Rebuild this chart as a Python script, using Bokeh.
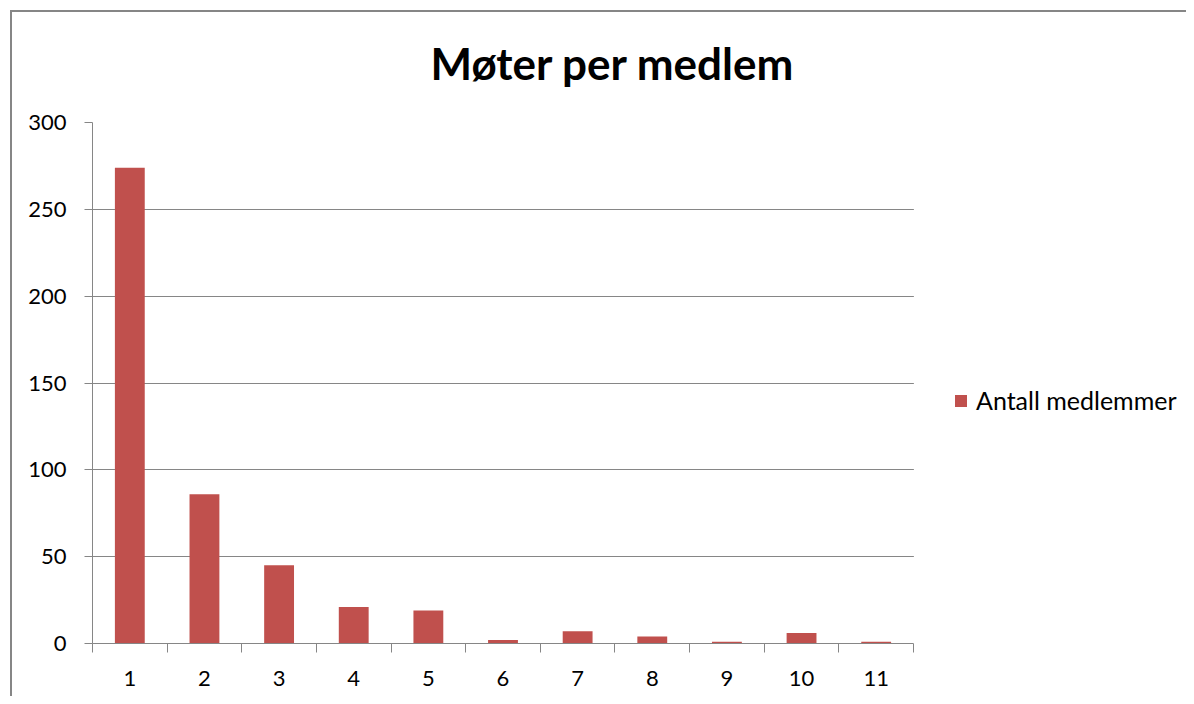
from bokeh.plotting import figure
from bokeh.models import FixedTicker, Legend, LegendItem, Range1d, BoxAnnotation
from bokeh.embed import file_html
from bokeh.resources import INLINE

# data
categories = [1, 2, 3, 4, 5, 6, 7, 8, 9, 10, 11]
members = [274, 86, 45, 21, 19, 2, 7, 4, 1, 6, 1]
y_ticks = [0, 50, 100, 150, 200, 250, 300]
title_text = "Møter per medlem"
series_name = "Antall medlemmer"

BAR = "#C0504D"
GRID = "#868686"
FONT = "Lato"

W, H = 1186, 696
LEFT, TOP, BOTTOM = 92, 122, 53
BARS_W = 821                      # pixel width of the bar area
FRAME_W = W - LEFT                # frame runs to the right edge (legend lives inside)
x0 = categories[0] - 0.5
x1 = categories[-1] + 0.5
x_end = x0 + (x1 - x0) * FRAME_W / BARS_W

p = figure(width=W, height=H, output_backend="svg", toolbar_location=None,
           x_range=Range1d(x0, x_end), y_range=Range1d(0, 300),
           min_border_left=LEFT, min_border_right=0, min_border_top=TOP,
           min_border_bottom=BOTTOM, outline_line_color=None,
           border_fill_color=None, background_fill_color="white")

p.styles = {
    "background": ("linear-gradient(#868686,#868686) 10px 10px / 2px 100% no-repeat, "
                   "linear-gradient(#868686,#868686) 10px 10px / 100% 2px no-repeat, white"),
}

r = p.vbar(x=categories, top=members, width=0.4, fill_color=BAR,
           line_color=BAR, line_width=0)

# title
p.title.text = title_text
p.title.text_font = FONT
p.title.text_font_style = "bold"
p.title.text_font_size = "44px"
p.title.align = "left"
p.title.vertical_align = "top"
p.title.offset = 338
p.title.standoff = 64
p.title.text_color = "black"

# y axis
ya = p.yaxis[0]
ya.ticker = FixedTicker(ticks=y_ticks)
ya.axis_line_color = GRID
ya.major_tick_line_color = GRID
ya.major_tick_out = 8
ya.major_tick_in = 0
ya.minor_tick_line_color = None
ya.major_label_standoff = 18
ya.major_label_text_font = FONT
ya.major_label_text_font_size = "22px"
ya.major_label_text_color = "black"

# x axis: labels at centres, ticks at category boundaries
xa = p.xaxis[0]
xa.bounds = (x0, x1)
xa.ticker = FixedTicker(ticks=categories,
                        minor_ticks=[c - 0.5 for c in categories] + [x1])
xa.axis_line_color = GRID
xa.major_tick_line_color = None
xa.major_tick_out = 0
xa.major_tick_in = 0
xa.minor_tick_line_color = GRID
xa.minor_tick_out = 9
xa.minor_tick_in = 0
xa.major_label_standoff = 18
xa.major_label_text_font = FONT
xa.major_label_text_font_size = "22px"
xa.major_label_text_color = "black"

p.xgrid.grid_line_color = None
p.ygrid.grid_line_color = GRID
p.ygrid.ticker = FixedTicker(ticks=y_ticks)

# blank out the grid to the right of the bar area
p.add_layout(BoxAnnotation(left=x1 + 0.005, fill_color="white", fill_alpha=1,
                           line_color=None))

legend = Legend(items=[LegendItem(label=series_name, renderers=[r])],
                location=(861, 228), orientation="vertical",
                glyph_width=15, glyph_height=15, label_standoff=8,
                label_text_font=FONT, label_text_font_size="25px",
                label_text_color="black", border_line_color=None,
                background_fill_alpha=0, padding=10, margin=0)
p.add_layout(legend)

open("out.html", "w").write(file_html(p, INLINE))
